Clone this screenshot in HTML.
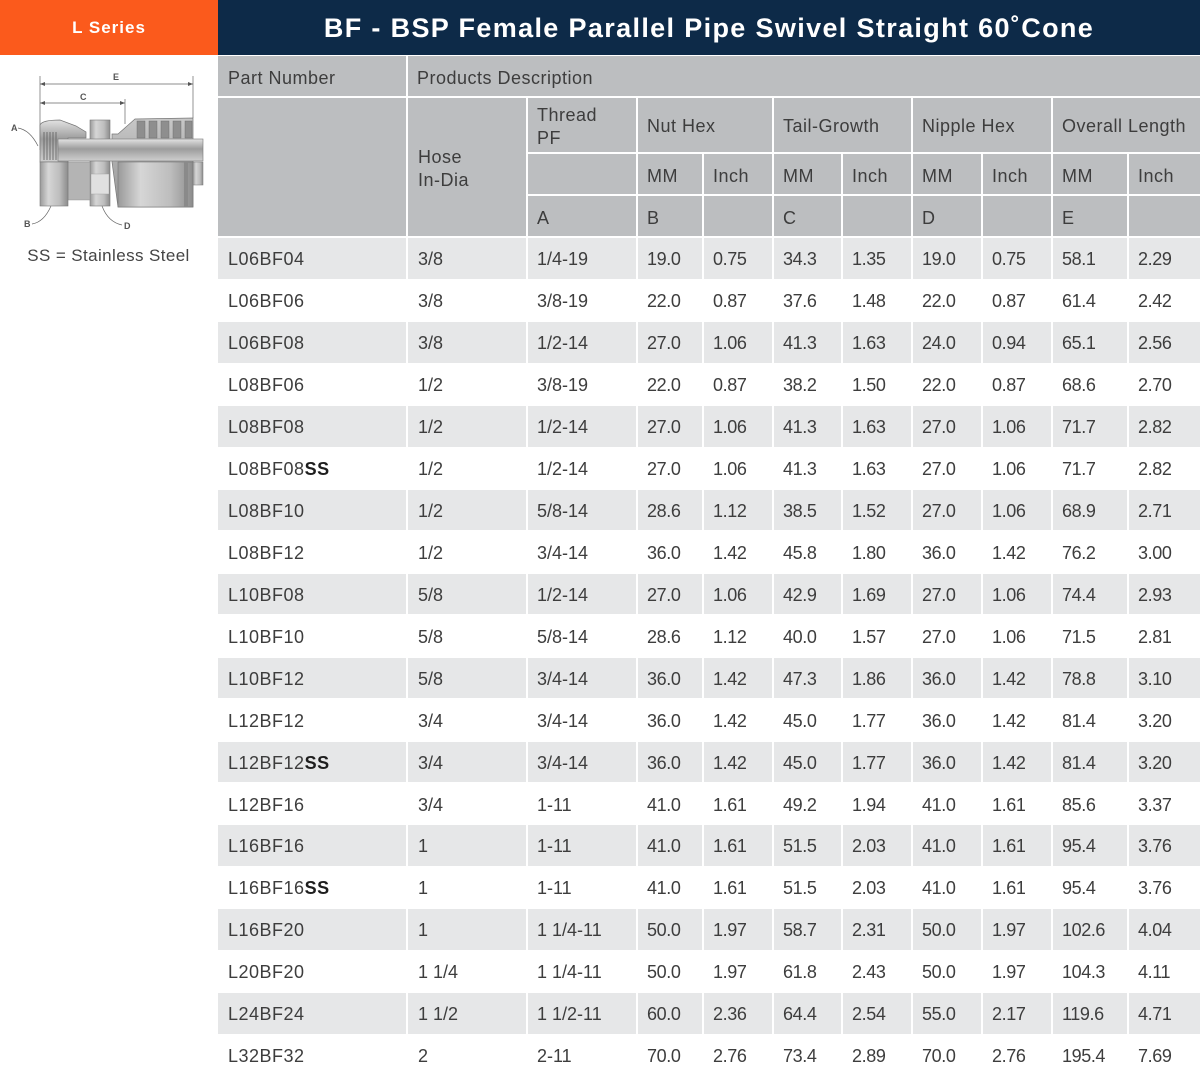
<!DOCTYPE html>
<html>
<head>
<meta charset="utf-8">
<style>
html,body{margin:0;padding:0;background:#fff;}
body{width:1200px;height:1079px;position:relative;overflow:hidden;font-family:"Liberation Sans",sans-serif;color:#3d3d3d;}
.abs{position:absolute;}
#orange{left:0;top:0;width:218px;height:55px;background:#fb5a1c;color:#fff;font-weight:bold;font-size:17px;letter-spacing:1px;text-align:center;line-height:56px;}
#navy{left:218px;top:0;width:982px;height:55px;background:#0d2a48;color:#fff;font-weight:bold;font-size:27px;letter-spacing:1.35px;text-align:center;line-height:57px;}
.h{position:absolute;background:#bcbec0;box-sizing:border-box;padding-left:9px;font-size:18px;letter-spacing:0.5px;white-space:nowrap;}
.h1{padding-top:4px;line-height:36px;}
.hm{display:flex;align-items:center;line-height:23px;padding-top:3px;}
.row{position:absolute;left:218px;width:982px;height:40.5px;display:flex;gap:2px;}
.row div{box-sizing:border-box;height:40.5px;padding-left:9px;padding-top:3px;line-height:37px;font-size:18px;letter-spacing:-0.4px;white-space:nowrap;}
.row.g div{background:#e6e7e8;}
.row div:nth-child(1){width:188px;padding-left:10px;letter-spacing:0.5px;}
.row div:nth-child(2){width:118px;padding-left:10px;letter-spacing:0;}
.row div:nth-child(3){width:108px;letter-spacing:0;}
.row div:nth-child(4){width:64px;}
.row div:nth-child(5){width:68px;}
.row div:nth-child(6){width:67px;}
.row div:nth-child(7){width:68px;}
.row div:nth-child(8){width:68px;}
.row div:nth-child(9){width:68px;}
.row div:nth-child(10){width:74px;}
.row div:nth-child(11){width:71px;}
b{color:#1e1e1e;}
#ss{left:0;top:244px;width:217px;text-align:center;font-size:17px;letter-spacing:0.4px;color:#444;line-height:24px;}
</style>
</head>
<body>
<div id="orange" class="abs">L Series</div>
<div id="navy" class="abs">BF - BSP Female Parallel Pipe Swivel Straight 60˚Cone</div>

<svg class="abs" style="left:0;top:60px" width="217" height="180" viewBox="0 60 217 180">
<defs>
<linearGradient id="gv" x1="0" y1="0" x2="0" y2="1">
<stop offset="0" stop-color="#e2e2e2"/><stop offset="0.45" stop-color="#9c9c9c"/><stop offset="1" stop-color="#cfcfcf"/>
</linearGradient>
<linearGradient id="gl" x1="0" y1="0" x2="0" y2="1">
<stop offset="0" stop-color="#c8c8c8"/><stop offset="0.5" stop-color="#acacac"/><stop offset="1" stop-color="#9a9a9a"/>
</linearGradient>
<linearGradient id="gh" x1="0" y1="0" x2="1" y2="0">
<stop offset="0" stop-color="#9a9a9a"/><stop offset="0.3" stop-color="#d6d6d6"/><stop offset="0.7" stop-color="#bdbdbd"/><stop offset="1" stop-color="#8c8c8c"/>
</linearGradient>
</defs>
<g stroke="#666" stroke-width="0.7" fill="none">
<line x1="40" y1="76" x2="40" y2="150"/>
<line x1="193" y1="76" x2="193" y2="118"/>
<line x1="125" y1="99" x2="125" y2="124"/>
<line x1="40" y1="84" x2="193" y2="84"/>
<line x1="40" y1="103" x2="125" y2="103"/>
<path d="M18 128 Q30 130 38 146"/>
<path d="M32 224 Q44 222 51 206"/>
<path d="M122 225 Q108 222 102 206"/>
</g>
<g fill="#555">
<path d="M40 84 l5 -2 v4z M193 84 l-5 -2 v4z M40 103 l5 -2 v4z M125 103 l-5 -2 v4z"/>
</g>
<g font-family="Liberation Sans,sans-serif" font-size="9" fill="#555" font-weight="bold">
<text x="113" y="80">E</text>
<text x="80" y="100">C</text>
<text x="11" y="131">A</text>
<text x="24" y="227">B</text>
<text x="124" y="229">D</text>
</g>
<!-- tail / socket -->
<path d="M112 162 L112 134 L118 134 L135 119 L193 118 L193 207 L118 207 Z" fill="url(#gl)" stroke="#777" stroke-width="0.7"/>
<rect x="118" y="162" width="75" height="45" fill="url(#gh)" stroke="#777" stroke-width="0.6"/>
<g fill="#8e8e8e" stroke="#666" stroke-width="0.4">
<rect x="137" y="121" width="8" height="17"/><rect x="149" y="121" width="8" height="17"/><rect x="161" y="121" width="8" height="17"/><rect x="173" y="121" width="8" height="17"/><rect x="185" y="121" width="7" height="17"/>
</g>
<rect x="184" y="162" width="4" height="45" fill="#8a8a8a"/>
<rect x="193" y="162" width="10" height="23" fill="url(#gh)" stroke="#777" stroke-width="0.5"/>
<!-- nipple hex -->
<rect x="90" y="120" width="20" height="86" fill="url(#gh)" stroke="#777" stroke-width="0.6"/>
<rect x="91" y="174" width="18" height="20" fill="#e0e0e0" stroke="#999" stroke-width="0.4"/>
<!-- collar between nut and nipple -->
<rect x="68" y="162" width="22" height="38" fill="#b4b4b4" stroke="#888" stroke-width="0.4"/>
<!-- nut -->
<path d="M40 125 Q42 120 60 120 L76 126 L86 132 L86 138 L68 138 L68 162 L40 162 Z" fill="url(#gv)" stroke="#777" stroke-width="0.7"/>
<rect x="40" y="162" width="28" height="44" fill="url(#gh)" stroke="#777" stroke-width="0.6"/>
<g stroke="#666" stroke-width="0.9">
<line x1="44" y1="132" x2="44" y2="160"/><line x1="47" y1="132" x2="47" y2="160"/><line x1="50" y1="132" x2="50" y2="160"/><line x1="53" y1="132" x2="53" y2="160"/><line x1="56" y1="132" x2="56" y2="160"/>
</g>
<!-- tube -->
<rect x="58" y="139" width="145" height="22" fill="url(#gv)" stroke="#777" stroke-width="0.6"/>
</svg>
<div id="ss" class="abs">SS = Stainless Steel</div>

<!-- header -->
<div class="h h1" style="left:218px;top:56px;width:188px;height:40px;padding-left:10px;">Part Number</div>
<div class="h h1" style="left:408px;top:56px;width:792px;height:40px;padding-left:9px;">Products Description</div>

<div class="h" style="left:218px;top:98px;width:188px;height:138px;"></div>
<div class="h hm" style="left:408px;top:98px;width:118px;height:138px;padding-left:10px;">Hose<br>In-Dia</div>
<div class="h hm" style="left:528px;top:98px;width:108px;height:54px;">Thread<br>PF</div>
<div class="h hm" style="left:638px;top:98px;width:134px;height:54px;">Nut Hex</div>
<div class="h hm" style="left:774px;top:98px;width:137px;height:54px;">Tail-Growth</div>
<div class="h hm" style="left:913px;top:98px;width:138px;height:54px;">Nipple Hex</div>
<div class="h hm" style="left:1053px;top:98px;width:147px;height:54px;">Overall Length</div>

<div class="h h1" style="left:528px;top:154px;width:108px;height:40px;"></div>
<div class="h h1" style="left:638px;top:154px;width:64px;height:40px;">MM</div>
<div class="h h1" style="left:704px;top:154px;width:68px;height:40px;">Inch</div>
<div class="h h1" style="left:774px;top:154px;width:67px;height:40px;">MM</div>
<div class="h h1" style="left:843px;top:154px;width:68px;height:40px;">Inch</div>
<div class="h h1" style="left:913px;top:154px;width:68px;height:40px;">MM</div>
<div class="h h1" style="left:983px;top:154px;width:68px;height:40px;">Inch</div>
<div class="h h1" style="left:1053px;top:154px;width:74px;height:40px;">MM</div>
<div class="h h1" style="left:1129px;top:154px;width:71px;height:40px;">Inch</div>

<div class="h h1" style="left:528px;top:196px;width:108px;height:40px;">A</div>
<div class="h h1" style="left:638px;top:196px;width:64px;height:40px;">B</div>
<div class="h h1" style="left:704px;top:196px;width:68px;height:40px;"></div>
<div class="h h1" style="left:774px;top:196px;width:67px;height:40px;">C</div>
<div class="h h1" style="left:843px;top:196px;width:68px;height:40px;"></div>
<div class="h h1" style="left:913px;top:196px;width:68px;height:40px;">D</div>
<div class="h h1" style="left:983px;top:196px;width:68px;height:40px;"></div>
<div class="h h1" style="left:1053px;top:196px;width:74px;height:40px;">E</div>
<div class="h h1" style="left:1129px;top:196px;width:71px;height:40px;"></div>

<!-- data rows -->
<div class="row g" style="top:238.3px"><div>L06BF04</div><div>3/8</div><div>1/4-19</div><div>19.0</div><div>0.75</div><div>34.3</div><div>1.35</div><div>19.0</div><div>0.75</div><div>58.1</div><div>2.29</div></div>
<div class="row" style="top:280.24px"><div>L06BF06</div><div>3/8</div><div>3/8-19</div><div>22.0</div><div>0.87</div><div>37.6</div><div>1.48</div><div>22.0</div><div>0.87</div><div>61.4</div><div>2.42</div></div>
<div class="row g" style="top:322.18px"><div>L06BF08</div><div>3/8</div><div>1/2-14</div><div>27.0</div><div>1.06</div><div>41.3</div><div>1.63</div><div>24.0</div><div>0.94</div><div>65.1</div><div>2.56</div></div>
<div class="row" style="top:364.12px"><div>L08BF06</div><div>1/2</div><div>3/8-19</div><div>22.0</div><div>0.87</div><div>38.2</div><div>1.50</div><div>22.0</div><div>0.87</div><div>68.6</div><div>2.70</div></div>
<div class="row g" style="top:406.06px"><div>L08BF08</div><div>1/2</div><div>1/2-14</div><div>27.0</div><div>1.06</div><div>41.3</div><div>1.63</div><div>27.0</div><div>1.06</div><div>71.7</div><div>2.82</div></div>
<div class="row" style="top:448px"><div>L08BF08<b>SS</b></div><div>1/2</div><div>1/2-14</div><div>27.0</div><div>1.06</div><div>41.3</div><div>1.63</div><div>27.0</div><div>1.06</div><div>71.7</div><div>2.82</div></div>
<div class="row g" style="top:489.94px"><div>L08BF10</div><div>1/2</div><div>5/8-14</div><div>28.6</div><div>1.12</div><div>38.5</div><div>1.52</div><div>27.0</div><div>1.06</div><div>68.9</div><div>2.71</div></div>
<div class="row" style="top:531.88px"><div>L08BF12</div><div>1/2</div><div>3/4-14</div><div>36.0</div><div>1.42</div><div>45.8</div><div>1.80</div><div>36.0</div><div>1.42</div><div>76.2</div><div>3.00</div></div>
<div class="row g" style="top:573.82px"><div>L10BF08</div><div>5/8</div><div>1/2-14</div><div>27.0</div><div>1.06</div><div>42.9</div><div>1.69</div><div>27.0</div><div>1.06</div><div>74.4</div><div>2.93</div></div>
<div class="row" style="top:615.76px"><div>L10BF10</div><div>5/8</div><div>5/8-14</div><div>28.6</div><div>1.12</div><div>40.0</div><div>1.57</div><div>27.0</div><div>1.06</div><div>71.5</div><div>2.81</div></div>
<div class="row g" style="top:657.7px"><div>L10BF12</div><div>5/8</div><div>3/4-14</div><div>36.0</div><div>1.42</div><div>47.3</div><div>1.86</div><div>36.0</div><div>1.42</div><div>78.8</div><div>3.10</div></div>
<div class="row" style="top:699.64px"><div>L12BF12</div><div>3/4</div><div>3/4-14</div><div>36.0</div><div>1.42</div><div>45.0</div><div>1.77</div><div>36.0</div><div>1.42</div><div>81.4</div><div>3.20</div></div>
<div class="row g" style="top:741.58px"><div>L12BF12<b>SS</b></div><div>3/4</div><div>3/4-14</div><div>36.0</div><div>1.42</div><div>45.0</div><div>1.77</div><div>36.0</div><div>1.42</div><div>81.4</div><div>3.20</div></div>
<div class="row" style="top:783.52px"><div>L12BF16</div><div>3/4</div><div>1-11</div><div>41.0</div><div>1.61</div><div>49.2</div><div>1.94</div><div>41.0</div><div>1.61</div><div>85.6</div><div>3.37</div></div>
<div class="row g" style="top:825.46px"><div>L16BF16</div><div>1</div><div>1-11</div><div>41.0</div><div>1.61</div><div>51.5</div><div>2.03</div><div>41.0</div><div>1.61</div><div>95.4</div><div>3.76</div></div>
<div class="row" style="top:867.4px"><div>L16BF16<b>SS</b></div><div>1</div><div>1-11</div><div>41.0</div><div>1.61</div><div>51.5</div><div>2.03</div><div>41.0</div><div>1.61</div><div>95.4</div><div>3.76</div></div>
<div class="row g" style="top:909.34px"><div>L16BF20</div><div>1</div><div>1 1/4-11</div><div>50.0</div><div>1.97</div><div>58.7</div><div>2.31</div><div>50.0</div><div>1.97</div><div>102.6</div><div>4.04</div></div>
<div class="row" style="top:951.28px"><div>L20BF20</div><div>1 1/4</div><div>1 1/4-11</div><div>50.0</div><div>1.97</div><div>61.8</div><div>2.43</div><div>50.0</div><div>1.97</div><div>104.3</div><div>4.11</div></div>
<div class="row g" style="top:993.22px"><div>L24BF24</div><div>1 1/2</div><div>1 1/2-11</div><div>60.0</div><div>2.36</div><div>64.4</div><div>2.54</div><div>55.0</div><div>2.17</div><div>119.6</div><div>4.71</div></div>
<div class="row" style="top:1035.16px"><div>L32BF32</div><div>2</div><div>2-11</div><div>70.0</div><div>2.76</div><div>73.4</div><div>2.89</div><div>70.0</div><div>2.76</div><div>195.4</div><div>7.69</div></div>
</body>
</html>
